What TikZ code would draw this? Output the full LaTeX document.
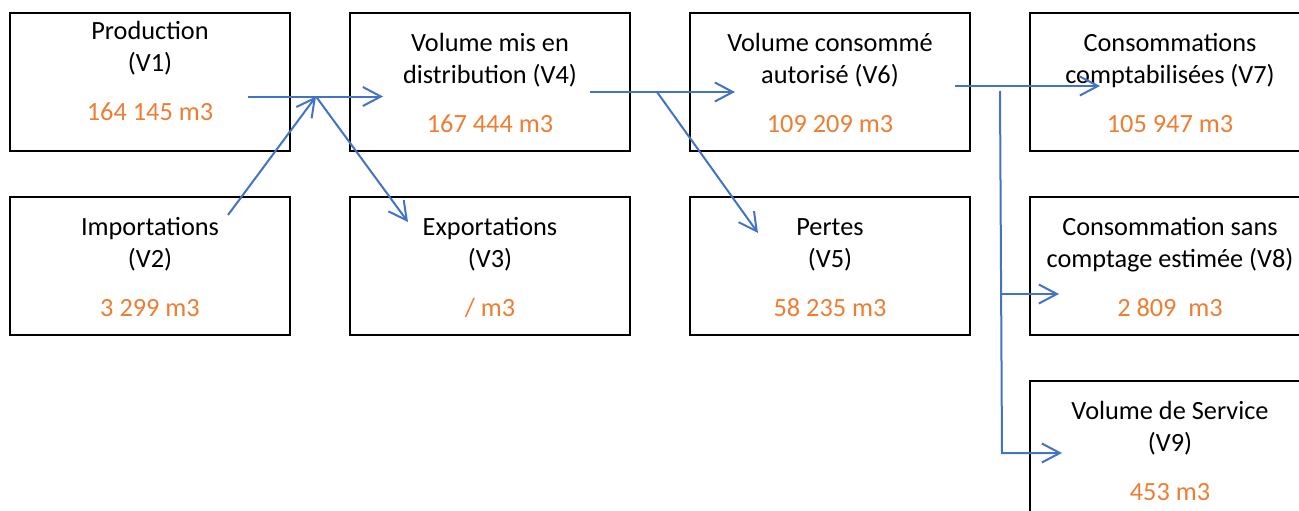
\documentclass[tikz,border=0pt]{standalone}
\usepackage{fontspec}
\setmainfont{Carlito}
\usetikzlibrary{arrows.meta,positioning}
\definecolor{vorange}{HTML}{ED7D31}
\definecolor{flowblue}{HTML}{4472C4}
\tikzset{
    node distance=60pt and 60pt,
    box/.style={rectangle, draw, line width=2pt, minimum width=280pt, minimum height=137.5pt, outer sep=0pt, inner sep=0pt},
    lbl/.style={align=center, inner sep=0pt, font=\fontsize{26.3}{32.3}\selectfont},
    flow/.style={draw=flowblue, line width=2pt, -{Straight Barb[length=18pt,width=19pt]}}
}

\begin{document}
\begin{tikzpicture}[x=1pt,y=-1pt]
    \useasboundingbox (0,0) rectangle (1299,511);
    % Top row of boxes
    \node[box] (prod) at (150,82) {};
    \node[box] (dist) [right=60pt of prod] {};
    \node[box] (autor) [right=60pt of dist] {};
    \node[box] (compt) [right=60pt of autor] {};
    % Second and third rows
    \node[box] (imp) [below=46.3pt of prod] {};
    \node[box] (exp) [below=46.3pt of dist] {};
    \node[box] (pertes) [below=46.3pt of autor] {};
    \node[box] (sans) [below=46.3pt of compt] {};
    \node[box] (serv) [below=46.3pt of sans] {};
    % Label the boxes with the volumes
    \node[lbl] (prodtxt) [below=3.4pt of prod.north] {\strut Production\\(V1)\\[16.4pt]\textcolor{vorange}{164 145 m3}};
    \node[lbl] (disttxt) [below=15.4pt of dist.north] {\strut Volume mis en\\distribution (V4)\\[16.4pt]\textcolor{vorange}{167 444 m3}};
    \node[lbl] (autortxt) [below=15.4pt of autor.north] {\strut Volume consommé\\autorisé (V6)\\[16.4pt]\textcolor{vorange}{109 209 m3}};
    \node[lbl] (compttxt) [below=15.4pt of compt.north] {\strut Consommations\\comptabilisées (V7)\\[16.4pt]\textcolor{vorange}{105 947 m3}};
    \node[lbl] (imptxt) [below=15.4pt of imp.north] {\strut Importations\\(V2)\\[16.4pt]\textcolor{vorange}{3 299 m3}};
    \node[lbl] (exptxt) [below=15.4pt of exp.north] {\strut Exportations\\(V3)\\[16.4pt]\textcolor{vorange}{/ m3}};
    \node[lbl] (pertestxt) [below=15.4pt of pertes.north] {\strut Pertes\\(V5)\\[16.4pt]\textcolor{vorange}{58 235 m3}};
    \node[lbl] (sanstxt) [below=15.4pt of sans.north] {\strut Consommation sans\\comptage estimée (V8)\\[16.4pt]\textcolor{vorange}{2 809\ \ m3}};
    \node[lbl] (servtxt) [below=15.4pt of serv.north] {\strut Volume de Service\\(V9)\\[16.4pt]\textcolor{vorange}{453 m3}};
    % Ends of the flow arrows
    \coordinate (prodout) at (248,96.5);
    \coordinate (join) at (316,96.5);
    \coordinate (distin) at (383,96.5);
    \coordinate (impout) at (228,215);
    \coordinate (expin) at (408,222);
    \coordinate (distout) at (590,92);
    \coordinate (fork) at (657,92);
    \coordinate (autorin) at (735,92);
    \coordinate (pertesin) at (758,233);
    \coordinate (autorout) at (955,86);
    \coordinate (comptin) at (1100,86);
    \coordinate (railtop) at (1000,91);
    \coordinate (railmid) at (1001,294);
    \coordinate (railbot) at (1002,453);
    \coordinate (sansin) at (1059,294);
    \coordinate (servin) at (1062,453);
    % Add in the flows
    \draw[flow] (prodout) -- (distin);
    \draw[flow] (impout) -- (join);
    \draw[flow] (join) -- (expin);
    \draw[flow] (distout) -- (autorin);
    \draw[flow] (fork) -- (pertesin);
    \draw[flow] (autorout) -- (comptin);
    \draw[flow] (railtop) -- (railbot) -- (servin);
    \draw[flow] (railmid) -- (sansin);
\end{tikzpicture}
\end{document}
